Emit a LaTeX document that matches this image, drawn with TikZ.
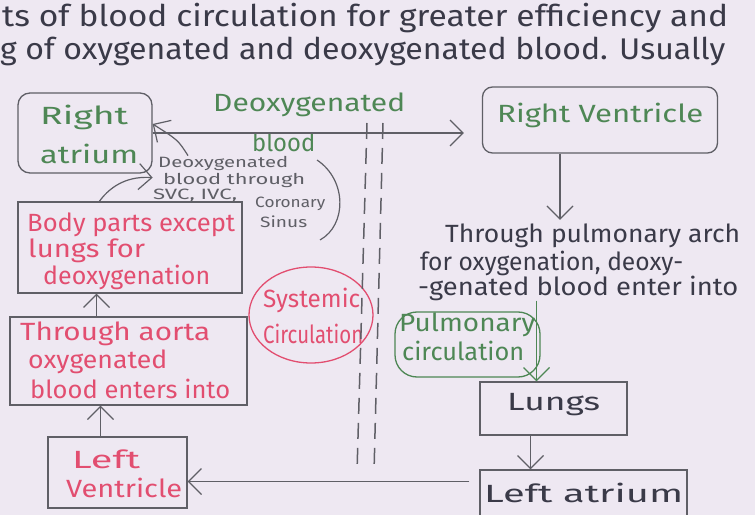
\documentclass[tikz,border=0pt]{standalone}
\usepackage{fontspec}
\setmainfont{Fira Sans}
\usepackage{graphicx}
\usetikzlibrary{arrows.meta,shapes.geometric}
\definecolor{bgc}{RGB}{238,232,242}
\definecolor{pen}{RGB}{95,95,102}
\definecolor{grn}{RGB}{78,135,85}
\definecolor{rd}{RGB}{226,78,112}
\definecolor{ink}{RGB}{58,58,72}
\newcommand\fw[2]{\resizebox{#1bp}{\height}{#2}}
\tikzset{
  box/.style={draw=pen, line width=1.3bp, inner sep=0pt},
  txt/.style={anchor=west, inner sep=0pt},
  big/.style={font=\fontsize{25}{27}\selectfont},
  top/.style={font=\fontsize{30}{32}\selectfont, text=ink},
  small/.style={font=\fontsize{15}{17}\selectfont, text=pen},
  arr/.style={draw=pen, line width=1.2bp, -{Straight Barb[length=13bp,width=26bp,line width=1.2bp]}},
  dashline/.style={draw=pen, line width=1.5bp, dash pattern=on 16bp off 9bp},
}
\begin{document}
\begin{tikzpicture}[x=1bp,y=-1bp]
\useasboundingbox (0,0) rectangle (755,515);
\fill[bgc] (0,0) rectangle (755,515);

% top text
\node[txt,top] (t1) at (2,18) {\fw{726}{ts of blood circulation for greater efficiency and}};
\node[txt,top] (t2) at (0,51) {\fw{725}{g of oxygenated and deoxygenated blood. Usually}};

% boxes
\node[box, rounded corners=12bp, minimum width=134bp, minimum height=80bp] (ra) at (85,133) {};
\node[box, rounded corners=10bp, minimum width=235bp, minimum height=66bp] (rv) at (600,120) {};
\node[box, minimum width=224bp, minimum height=91bp] (body) at (130,247.5) {};
\node[box, minimum width=237bp, minimum height=88bp] (aorta) at (128.5,361) {};
\node[box, minimum width=139bp, minimum height=71bp] (lv) at (117.5,472.5) {};
\node[box, ellipse, draw=rd, minimum width=124bp, minimum height=96bp] (sys) at (311,315) {};
\node[box, draw=grn, rounded corners=22bp, minimum width=145bp, minimum height=65bp] (pul) at (467.5,344.5) {};
\node[box, minimum width=147bp, minimum height=53bp] (lungs) at (553.5,408.5) {};
\node[box, minimum width=207bp, minimum height=55bp] (la) at (583.5,497.5) {};

% box texts
\node[txt,big,text=grn] (ra1) at (40,117) {\fw{88}{Right}};
\node[txt,big,text=grn] (ra2) at (40,154) {\fw{98}{atrium}};
\node[txt,big,text=grn] (rv1) at (497,115) {\fw{206}{Right Ventricle}};
\node[txt,big,text=grn] (dx1) at (213,105) {\fw{192}{Deoxygenated}};
\node[txt,big,text=grn] (dx2) at (252,142) {\fw{63}{blood}};

\node[txt,small] (s1) at (158,163) {\fw{130}{Deoxygenated}};
\node[txt,small] (s2) at (163,180) {\fw{142}{blood through}};
\node[txt,small] (s3) at (153,196) {\fw{84}{SVC, IVC,}};
\node[txt,small] (s4) at (255,204) {\fw{70}{Coronary}};
\node[txt,small] (s5) at (260,222) {\fw{47}{Sinus}};

\node[txt,big,text=rd] (b1) at (27,225) {\fw{208}{Body parts except}};
\node[txt,big,text=rd] (b2) at (28,251) {\fw{117}{lungs for}};
\node[txt,big,text=rd] (b3) at (43,277) {\fw{167}{deoxygenation}};

\node[txt,big,text=rd] (a1) at (20,334) {\fw{190}{Through aorta}};
\node[txt,big,text=rd] (a2) at (28,362) {\fw{139}{oxygenated}};
\node[txt,big,text=rd] (a3) at (30,389) {\fw{200}{blood enters into}};

\node[txt,big,text=rd] (l1) at (72,459) {\fw{68}{Left}};
\node[txt,big,text=rd] (l2) at (66,488) {\fw{116}{Ventricle}};

\node[txt,big,text=rd] (sy1) at (263,300) {\fw{97}{Systemic}};
\node[txt,big,text=rd] (sy2) at (263,334) {\fw{100}{Circulation}};

\node[txt,big,text=ink] (p1) at (445,236) {\fw{295}{Through pulmonary arch}};
\node[txt,big,text=ink] (p2) at (420,263) {\fw{263}{for oxygenation, deoxy-}};
\node[txt,big,text=ink] (p3) at (418,288) {\fw{320}{-genated blood enter into}};

\node[txt,big,text=grn] (pc1) at (399,325) {\fw{136}{Pulmonary}};
\node[txt,big,text=grn] (pc2) at (402,351) {\fw{122}{circulation}};

\node[txt,big,text=ink] (lu) at (507,405) {\fw{93}{Lungs}};
\node[txt,big,text=ink] (lat) at (484,493) {\fw{199}{Left atrium}};

% connectors
\draw[arr, shorten >=18bp] (ra.east) -- (ra.east -| rv.west);
\draw[arr] ([xshift=30bp]s1.north west) .. controls (178,140) .. ([yshift=9bp]ra.east);
\draw[arr] ([xshift=82bp]body.north west) .. controls (112,184) and (130,176) .. ([yshift=-4bp]ra.south east);
\draw[pen, line width=1.2bp] (317,160) .. controls (347,180) and (347,225) .. (320,240);

\draw[arr] ([xshift=-32bp]aorta.north) -- ([xshift=-32bp]aorta.north |- body.south);
\draw[arr] ([xshift=-17bp]lv.north) -- ([xshift=-17bp]lv.north |- aorta.south);
\draw[arr, shorten <=10bp] ([yshift=16bp]la.west) -- ([yshift=16bp]la.west -| lv.east);

\draw[arr, shorten >=4bp] ([xshift=-40bp]rv.south) -- ([xshift=-40bp]rv.south |- p1.north);
\draw[arr, draw=grn] ([xshift=-17bp]lungs.north |- p3.south) -- ([xshift=-17bp]lungs.north);
\draw[arr] ([xshift=-23bp]lungs.south) -- ([xshift=-23bp]lungs.south |- la.north);

% dashed separators
\draw[dashline] (367,123) -- (357,472);
\draw[dashline] (383,123) -- (374,472);
\end{tikzpicture}
\end{document}
